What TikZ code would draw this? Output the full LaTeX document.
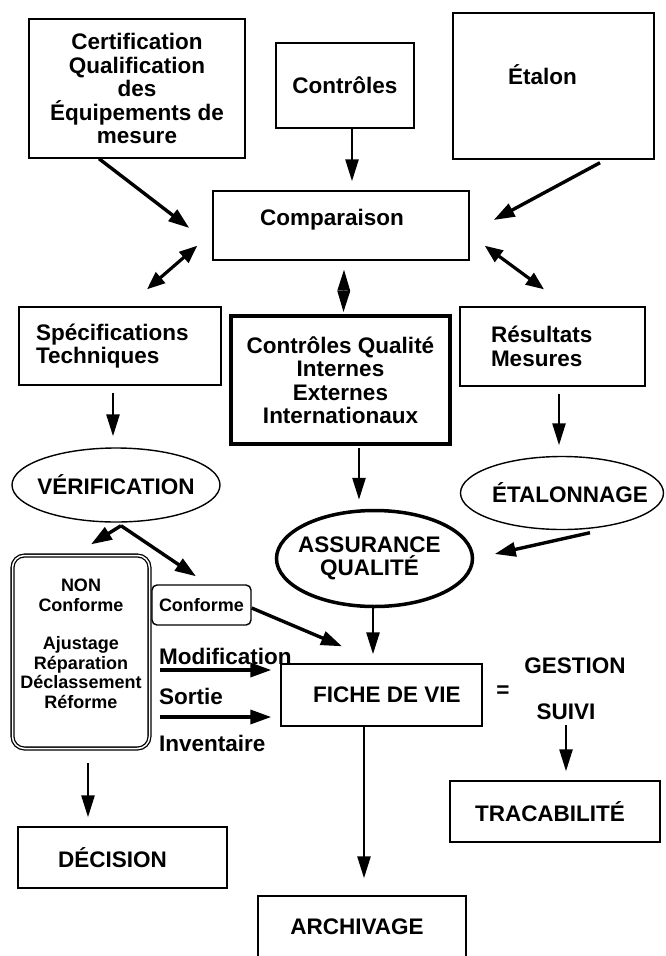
\documentclass[tikz,border=0pt]{standalone}
\usepackage{fontspec}
\setmainfont{Liberation Sans}
\usetikzlibrary{arrows.meta,shapes.geometric}

\begin{document}
\begin{tikzpicture}[x=1pt, y=-1pt,
  font=\bfseries\fontsize{22.5}{23.5}\selectfont,
  box/.style={draw, line width=1.4pt, align=center, inner sep=0pt},
  thickbox/.style={box, line width=4pt},
  oval/.style={draw, ellipse, line width=1.4pt, inner sep=0pt},
  small/.style={font=\bfseries\fontsize{18}{19.5}\selectfont},
  lbl/.style={inner sep=0pt},
  flow/.style={-{Triangle[length=21pt,width=14pt]}, line width=3.4pt},
  down/.style={-{Triangle[length=22pt,width=13pt]}, line width=2.6pt},
  both/.style={{Triangle[length=18pt,width=14pt]}-{Triangle[length=18pt,width=14pt]}, line width=3.2pt},
  diam/.style={{Triangle[length=21pt,width=12.5pt]}-{Triangle[length=21pt,width=12.5pt]}, line width=1.5pt}
]
  \useasboundingbox (0,0) rectangle (666,956);

  % ---- top row ----
  \node[box, minimum width=216pt, minimum height=139pt] (cert) at (137,88.5)
        {Certification\\Qualification\\des\\Équipements de\\mesure};
  \node[box, minimum width=138pt, minimum height=85pt] (ctrl) at (345,85.5) {Contrôles};
  \node[box, minimum width=201pt, minimum height=146pt,
        label={[xshift=-11pt, yshift=11pt]center:Étalon}] (etalon) at (553.5,86) {};
  \node[box, minimum width=256pt, minimum height=69pt,
        label={[xshift=-9pt, yshift=5.5pt]center:Comparaison}] (comp) at (341,225.5) {};

  % ---- second row ----
  \node[box, minimum width=202pt, minimum height=78pt, text width=168pt, align=left] (spec)
        at (120,346) {Spécifications\\Techniques};
  \node[thickbox, minimum width=219pt, minimum height=128pt] (cq) at (340.5,380)
        {Contrôles Qualité\\Internes\\Externes\\Internationaux};
  \node[box, minimum width=185pt, minimum height=79pt, text width=123pt, align=left] (res)
        at (552.5,346.5) {Résultats\\Mesures};

  % ---- ovals ----
  \node[oval, minimum width=208pt, minimum height=74pt,
        label=center:VÉRIFICATION] (verif) at (116,485) {};
  \node[oval, minimum width=203pt, minimum height=73pt,
        label={[xshift=8pt]center:ÉTALONNAGE}] (etal) at (562,493) {};
  \node[oval, line width=3.5pt, minimum width=196pt, minimum height=96pt,
        label={[align=center, xshift=-5pt]center:ASSURANCE\\QUALITÉ}] (aq) at (374.5,558.5) {};

  % ---- lower part ----
  \node[box, double, double distance=1.5pt, line width=1.3pt, rounded corners=12pt,
        minimum width=137pt, minimum height=193pt,
        label={[small, align=center, yshift=8pt]center:NON\\Conforme\\[19pt]Ajustage\\Réparation\\Déclassement\\Réforme}]
        (non) at (81,652) {};
  \node[box, small, rounded corners=5pt, minimum width=99pt, minimum height=40pt] (conf)
        at (201.5,605) {Conforme};
  \node[box, minimum width=201pt, minimum height=62pt,
        label={[xshift=5.5pt]center:FICHE DE VIE}] (fdv) at (381.5,695) {};
  \node[box, minimum width=210pt, minimum height=61pt,
        label={[xshift=-5pt]center:TRACABILITÉ}] (trac) at (555,811.5) {};
  \node[box, minimum width=209pt, minimum height=61pt,
        label={[xshift=-10pt]center:DÉCISION}] (dec) at (122.5,857.5) {};
  \node[box, minimum width=208pt, minimum height=80pt,
        label={[xshift=-5pt, yshift=9pt]center:ARCHIVAGE}] (arch) at (362,936) {};

  % ---- free texts ----
  \node[lbl, anchor=west] (modif) at (159,656) {Modification};
  \node[lbl, anchor=west] (sortie) at (159,696) {Sortie};
  \node[lbl, anchor=west] (invent) at (159,743) {Inventaire};
  \node[lbl] (egal) at (503,692) {=};
  \node[lbl] (gestion) at (575,666) {GESTION};
  \node[lbl] (suivi) at (566,712) {SUIVI};

  % ---- arrows into comparaison ----
  \draw[flow] ([xshift=-38pt]cert.south) -- ([xshift=-23pt, yshift=-2.5pt]comp.west);
  \draw[down] ([xshift=7pt]ctrl.south) -- ([xshift=11pt, yshift=9pt]comp.north);
  \draw[flow] ([xshift=46.5pt, yshift=-3pt]etalon.south) -- ([xshift=24pt, yshift=5.5pt]comp.east);
  \draw[both] ([xshift=-15pt, yshift=15pt]comp.south west) -- ([xshift=27pt, yshift=17pt]spec.north);
  \draw[both] ([xshift=15pt, yshift=15pt]comp.south east) -- ([xshift=-8.5pt, yshift=17pt]res.north);
  \draw[diam] ([xshift=3pt, yshift=-9pt]comp.south) -- ([xshift=3pt, yshift=2pt]cq.north);

  % ---- middle arrows ----
  \draw[down] ([xshift=-7pt, yshift=-7pt]spec.south) -- ([xshift=-3pt, yshift=11pt]verif.north);
  \draw[down] ([xshift=18.5pt, yshift=-2pt]cq.south) -- ([xshift=-15.5pt, yshift=9pt]aq.north);
  \draw[down] ([xshift=6.5pt, yshift=-7pt]res.south) -- ([xshift=-3pt, yshift=10.5pt]etal.north);
  \draw[flow] ([xshift=28pt, yshift=-2.5pt]etal.south) -- ([xshift=20.5pt, yshift=4.5pt]aq.east);
  \draw[flow] ([xshift=5pt, yshift=-3pt]verif.south) -- ([xshift=10pt, yshift=10.5pt]non.north);
  \draw[flow] ([xshift=5pt, yshift=-3pt]verif.south) -- ([xshift=-5.5pt, yshift=8pt]conf.north);

  % ---- into fiche de vie ----
  \draw[flow] ([yshift=-3pt]conf.east) -- ([xshift=-39.5pt, yshift=17pt]fdv.north);
  \draw[down] ([xshift=-1.5pt]aq.south) -- ([xshift=-8.5pt, yshift=9pt]fdv.north);
  \draw[flow] ([xshift=9.5pt, yshift=-18pt]non.east) -- ([xshift=-9pt, yshift=25pt]fdv.west);
  \draw[flow] ([xshift=9.5pt, yshift=-65pt]non.east) -- ([xshift=-9pt, yshift=-22pt]fdv.west);

  % ---- bottom arrows ----
  \draw[down] ([xshift=-17.5pt]fdv.south) -- ([xshift=2pt, yshift=17pt]arch.north);
  \draw[down] ([yshift=-5pt]suivi.south) -- ([xshift=11pt, yshift=9pt]trac.north);
  \draw[down] ([xshift=7pt, yshift=-14pt]non.south) -- ([xshift=-34.5pt, yshift=9pt]dec.north);
\end{tikzpicture}
\end{document}
